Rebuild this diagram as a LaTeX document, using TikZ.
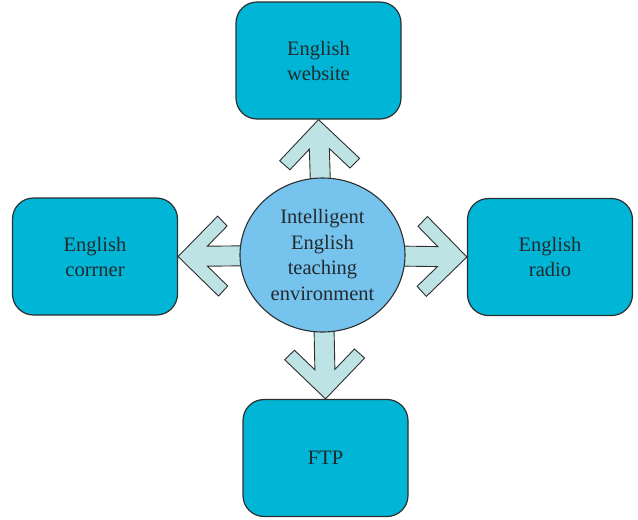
\documentclass[tikz,border=0pt]{standalone}
\usepackage{fontspec}
\setmainfont{Liberation Serif}
\usetikzlibrary{shapes.geometric,calc}
\pgfdeclarelayer{back}
\pgfsetlayers{back,main}
\definecolor{boxfill}{HTML}{00B5D6}
\definecolor{hubfill}{HTML}{76C3EE}
\definecolor{arrowfill}{HTML}{BEE3E5}
\definecolor{edgeline}{HTML}{2E2E2E}
\definecolor{ink}{HTML}{232A2E}

% Block arrow with a chevron head, from point #1 to point #2
\newcommand\blockarrow[2]{%
  \path let \p1=($(#2)-(#1)$), \n1={atan2(\y1,\x1)}, \n2={veclen(\x1,\y1)} in
    \pgfextra{\pgfmathsetmacro\tmpang{\n1}\global\let\arrowang\tmpang
              \pgfmathsetmacro\tmplen{\n2}\global\let\arrowlen\tmplen};
  \begin{scope}[shift={(#1)}, rotate=\arrowang, x=1pt, y=1pt]
    \draw[arrowshape] (0,-10) -- (\arrowlen-29.3,-10) -- (\arrowlen-49.3,-30)
      -- (\arrowlen-40,-40) -- (\arrowlen,0) -- (\arrowlen-40,40)
      -- (\arrowlen-49.3,30) -- (\arrowlen-29.3,10) -- (0,10) -- cycle;
  \end{scope}}

\tikzset{
  topicbox/.style={draw=edgeline, line width=1.2pt, fill=boxfill,
    rounded corners=21pt, minimum width=165pt, minimum height=117pt,
    inner sep=0pt, align=center, text=ink,
    font=\fontsize{20.5}{25}\selectfont},
  hubnode/.style={ellipse, draw=edgeline, line width=1.1pt, fill=hubfill,
    minimum width=165pt, minimum height=154pt, inner sep=0pt,
    align=center, text=ink, font=\fontsize{20.5}{25.7}\selectfont},
  arrowshape/.style={draw=edgeline, line width=0.9pt, fill=arrowfill,
    line join=miter}
}

\begin{document}
\begin{tikzpicture}[x=1pt, y=-1pt]
  \useasboundingbox (0,0) rectangle (638,520);

  \node[topicbox] (web)    at (318.5,60.5) {English\\website};
  \node[topicbox] (corner) at (95,256.5)   {English\\corrner};
  \node[topicbox] (radio)  at (550,257)    {English\\radio};
  \node[topicbox] (ftp)    at (325.5,458)  {FTP};

  \node[hubnode] (hub) at (322.5,255)
    {Intelligent\\English\\teaching\\environment};

  \begin{pgfonlayer}{back}
    \blockarrow{hub.center}{web.south}
    \blockarrow{hub.center}{corner.east}
    \blockarrow{hub.center}{radio.west}
    \blockarrow{hub.center}{ftp.north}
  \end{pgfonlayer}
\end{tikzpicture}
\end{document}
